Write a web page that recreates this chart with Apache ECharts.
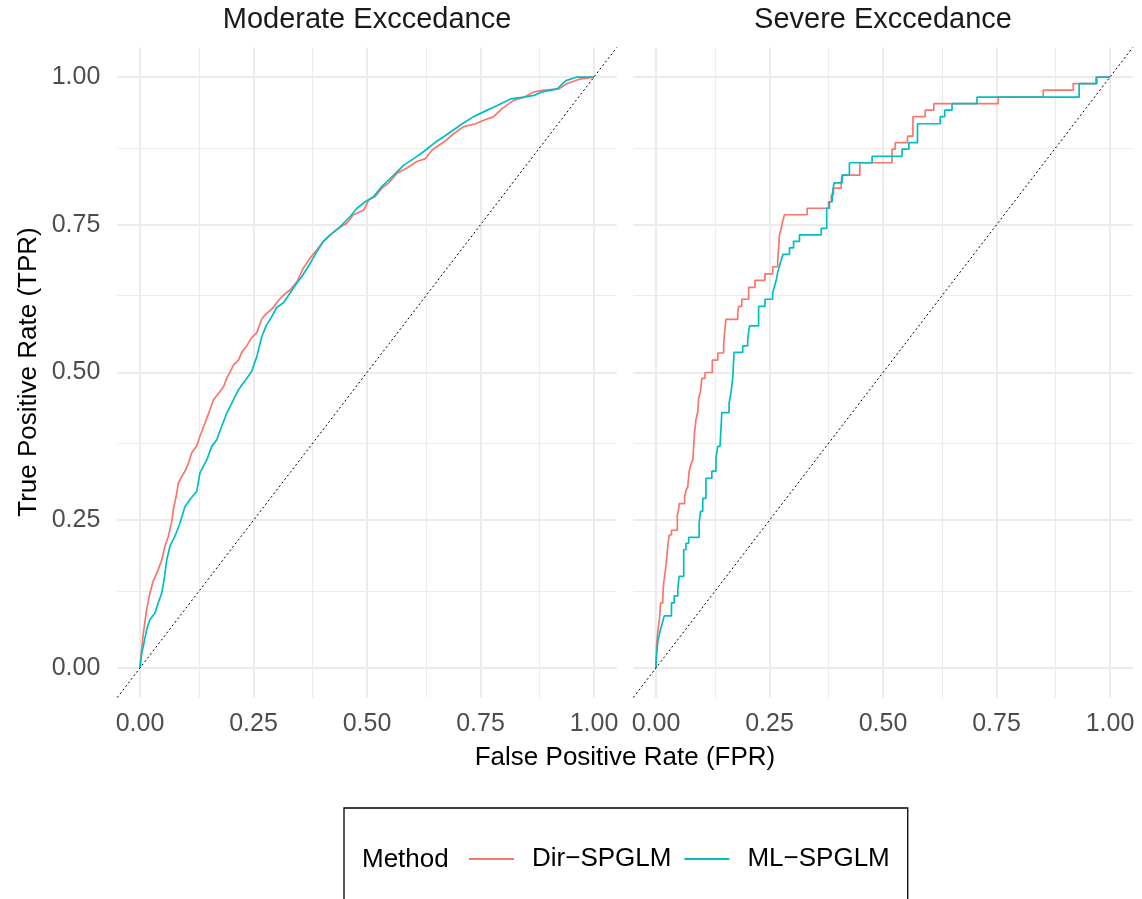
<!DOCTYPE html>
<html>
<head>
<meta charset="utf-8">
<title>ROC curves</title>
<script src="https://cdn.jsdelivr.net/npm/echarts@6/dist/echarts.min.js"></script>
<style>
  html, body { margin: 0; padding: 0; background: #ffffff; }
  #chart { width: 1142px; height: 899px; }
</style>
</head>
<body>
<div id="chart"></div>
<script>
// Facet titles, methods and axis ticks
const panels = ['Moderate Exccedance', 'Severe Exccedance'];
const methods = ['Dir−SPGLM', 'ML−SPGLM'];
const methodColors = ['#F8766D', '#00BFC4'];
const majorTicks = [0, 0.25, 0.5, 0.75, 1];
const minorTicks = [0.125, 0.375, 0.625, 0.875];
const axisRange = [-0.05, 1.05];

// ROC points [FPR, TPR] — moderate exceedance
const moderateDir = [
  [0,0],[0.0037,0.031],[0.0074,0.059],[0.0147,0.099],[0.022,0.127],[0.029,0.147],
  [0.040,0.166],[0.048,0.183],[0.055,0.206],[0.0625,0.223],[0.070,0.248],[0.0735,0.268],
  [0.081,0.296],[0.0845,0.313],[0.092,0.324],[0.099,0.333],[0.107,0.347],[0.114,0.364],
  [0.125,0.376],[0.132,0.392],[0.143,0.414],[0.154,0.437],[0.162,0.454],[0.173,0.465],
  [0.184,0.476],[0.191,0.490],[0.199,0.502],[0.206,0.513],[0.217,0.521],[0.224,0.534],
  [0.235,0.545],[0.246,0.559],[0.257,0.567],[0.268,0.590],[0.276,0.598],[0.294,0.610],
  [0.301,0.618],[0.313,0.629],[0.331,0.640],[0.346,0.654],[0.360,0.677],[0.375,0.694],
  [0.390,0.708],[0.404,0.722],[0.419,0.733],[0.4375,0.744],[0.456,0.753],[0.470,0.767],
  [0.493,0.775],[0.504,0.792],[0.518,0.798],[0.533,0.812],[0.548,0.821],[0.566,0.837],
  [0.588,0.846],[0.610,0.857],[0.629,0.862],[0.643,0.876],[0.669,0.890],[0.691,0.904],
  [0.713,0.916],[0.739,0.921],[0.757,0.927],[0.779,0.933],[0.798,0.947],[0.824,0.961],
  [0.846,0.966],[0.868,0.975],[0.890,0.978],[0.923,0.980],[0.941,0.989],[0.971,0.997],
  [1,1]
];
const moderateML = [
  [0,0],[0.0037,0.025],[0.0074,0.037],[0.0147,0.065],[0.022,0.082],[0.033,0.093],
  [0.040,0.110],[0.048,0.127],[0.053,0.149],[0.059,0.183],[0.066,0.206],[0.077,0.223],
  [0.088,0.245],[0.099,0.273],[0.110,0.285],[0.125,0.299],[0.132,0.330],[0.147,0.352],
  [0.158,0.375],[0.169,0.386],[0.180,0.409],[0.191,0.431],[0.206,0.454],[0.217,0.471],
  [0.235,0.490],[0.246,0.502],[0.257,0.526],[0.268,0.560],[0.279,0.581],[0.287,0.590],
  [0.301,0.610],[0.316,0.618],[0.331,0.635],[0.346,0.652],[0.357,0.663],[0.375,0.685],
  [0.390,0.705],[0.404,0.722],[0.419,0.733],[0.441,0.747],[0.463,0.764],[0.478,0.778],
  [0.496,0.789],[0.515,0.798],[0.533,0.815],[0.559,0.834],[0.581,0.851],[0.603,0.862],
  [0.625,0.874],[0.651,0.890],[0.669,0.899],[0.684,0.907],[0.710,0.921],[0.735,0.933],
  [0.765,0.944],[0.787,0.952],[0.816,0.963],[0.846,0.966],[0.868,0.969],[0.886,0.975],
  [0.919,0.980],[0.938,0.994],[0.963,1],[1,1]
];

// ROC points [FPR, TPR] — severe exceedance (each point is where TPR steps up)
const severeDir = [
  [0,0],[0.001,0.034],[0.004,0.062],[0.008,0.085],[0.010,0.110],[0.015,0.120],
  [0.017,0.144],[0.021,0.167],[0.024,0.190],[0.027,0.213],[0.029,0.225],[0.034,0.233],
  [0.047,0.258],[0.050,0.270],[0.051,0.278],[0.063,0.290],[0.066,0.300],[0.070,0.307],
  [0.073,0.332],[0.077,0.345],[0.081,0.352],[0.083,0.375],[0.085,0.400],[0.088,0.420],
  [0.092,0.434],[0.094,0.457],[0.098,0.468],[0.101,0.490],[0.108,0.500],[0.124,0.521],
  [0.136,0.533],[0.149,0.545],[0.151,0.567],[0.154,0.590],[0.180,0.601],[0.182,0.612],
  [0.189,0.624],[0.204,0.644],[0.218,0.656],[0.240,0.667],[0.257,0.679],[0.268,0.689],
  [0.270,0.711],[0.272,0.733],[0.276,0.744],[0.279,0.756],[0.283,0.767],[0.333,0.778],
  [0.380,0.789],[0.386,0.800],[0.391,0.812],[0.408,0.823],[0.410,0.834],[0.449,0.855],
  [0.520,0.878],[0.527,0.889],[0.554,0.900],[0.566,0.933],[0.593,0.944],[0.612,0.955],
  [0.754,0.966],[0.853,0.978],[0.919,0.989],[0.969,1],[1,1]
];
const severeML = [
  [0,0],[0,0.011],[0.004,0.045],[0.007,0.056],[0.011,0.068],[0.015,0.079],
  [0.018,0.088],[0.034,0.110],[0.040,0.122],[0.048,0.134],[0.051,0.155],[0.061,0.200],
  [0.066,0.211],[0.072,0.221],[0.095,0.245],[0.098,0.265],[0.103,0.287],[0.110,0.321],
  [0.123,0.333],[0.132,0.355],[0.136,0.375],[0.141,0.378],[0.145,0.432],[0.161,0.448],
  [0.165,0.465],[0.169,0.490],[0.172,0.534],[0.191,0.545],[0.202,0.556],[0.206,0.579],
  [0.226,0.612],[0.240,0.624],[0.257,0.635],[0.261,0.646],[0.265,0.657],[0.268,0.669],
  [0.272,0.680],[0.276,0.691],[0.280,0.700],[0.294,0.711],[0.303,0.722],[0.316,0.733],
  [0.364,0.744],[0.376,0.778],[0.382,0.789],[0.388,0.800],[0.392,0.821],[0.410,0.834],
  [0.426,0.855],[0.476,0.866],[0.542,0.878],[0.557,0.889],[0.576,0.921],[0.626,0.933],
  [0.636,0.944],[0.652,0.955],[0.707,0.966],[0.932,0.989],[0.971,1],[1,1]
];

const panelCurves = [
  { data: [moderateDir, moderateML], step: false },
  { data: [severeDir, severeML], step: 'end' }
];

const FONT = '"Liberation Sans", Arial, Helvetica, sans-serif';
const GRID_COLOR = '#EBEBEB';

const panelBoxes = [
  { left: 117.3, top: 47.5, width: 499.4, height: 650 },
  { left: 633.3, top: 47.5, width: 499.4, height: 650 }
];

function gridMarkLines() {
  const items = [];
  majorTicks.forEach(v => {
    items.push({ xAxis: v, lineStyle: { width: 2.1 } });
    items.push({ yAxis: v, lineStyle: { width: 2.1 } });
  });
  minorTicks.forEach(v => {
    items.push({ xAxis: v, lineStyle: { width: 1.1 } });
    items.push({ yAxis: v, lineStyle: { width: 1.1 } });
  });
  return {
    silent: true,
    z: 0,
    symbol: ['none', 'none'],
    label: { show: false },
    emphasis: { disabled: true },
    lineStyle: { color: GRID_COLOR, type: 'solid' },
    animation: false,
    data: items
  };
}

const grids = [], xAxes = [], yAxes = [], series = [];
panelBoxes.forEach((box, p) => {
  grids.push(Object.assign({ containLabel: false }, box));
  xAxes.push({
    type: 'value', gridIndex: p, min: axisRange[0], max: axisRange[1],
    axisLine: { show: false }, axisTick: { show: false }, splitLine: { show: false },
    axisLabel: {
      customValues: majorTicks, margin: 14,
      formatter: v => v.toFixed(2),
      color: '#4D4D4D', fontSize: 25, fontFamily: FONT
    }
  });
  yAxes.push({
    type: 'value', gridIndex: p, min: axisRange[0], max: axisRange[1],
    axisLine: { show: false }, axisTick: { show: false }, splitLine: { show: false },
    axisLabel: {
      show: p === 0, customValues: majorTicks, margin: 17,
      formatter: v => v.toFixed(2),
      color: '#4D4D4D', fontSize: 25, fontFamily: FONT
    }
  });
  // panel grid lines
  series.push({
    name: 'grid-' + p, type: 'line', xAxisIndex: p, yAxisIndex: p,
    data: [], silent: true, z: 0, markLine: gridMarkLines()
  });
  // ROC curves per method
  panelCurves[p].data.forEach((pts, m) => {
    series.push({
      name: methods[m], type: 'line', xAxisIndex: p, yAxisIndex: p,
      data: pts, step: panelCurves[p].step, showSymbol: false, symbol: 'none',
      lineStyle: { color: methodColors[m], width: 1.7 },
      itemStyle: { color: methodColors[m] },
      z: 2, silent: true
    });
  });
  // chance line y = x
  series.push({
    name: 'chance-' + p, type: 'line', xAxisIndex: p, yAxisIndex: p,
    data: [[axisRange[0], axisRange[0]], [axisRange[1], axisRange[1]]],
    showSymbol: false, symbol: 'none', silent: true, z: 3,
    lineStyle: { color: '#000000', width: 1, type: [2, 2.5] }
  });
});

const chart = echarts.init(document.getElementById('chart'), null, { renderer: 'canvas' });
chart.setOption({
  animation: false,
  backgroundColor: '#ffffff',
  grid: grids,
  xAxis: xAxes,
  yAxis: yAxes,
  series: series,
  legend: {
    data: methods,
    left: 344, top: 808,
    orient: 'horizontal',
    padding: [38, 18, 38, 125],
    borderColor: '#000000', borderWidth: 1.3,
    icon: 'rect', itemWidth: 45, itemHeight: 2,
    itemGap: 13,
    selectedMode: false,
    textStyle: { fontSize: 26, color: '#000000', fontFamily: FONT, padding: [0, 0, 0, 13] }
  },
  graphic: [
    { type: 'text', x: 367, y: 20, silent: true,
      style: { text: panels[0], font: '29px ' + FONT, fill: '#1A1A1A', align: 'center', verticalAlign: 'middle', textAlign: 'center', textVerticalAlign: 'middle' } },
    { type: 'text', x: 883, y: 20, silent: true,
      style: { text: panels[1], font: '29px ' + FONT, fill: '#1A1A1A', align: 'center', verticalAlign: 'middle', textAlign: 'center', textVerticalAlign: 'middle' } },
    { type: 'text', x: 625, y: 758, silent: true,
      style: { text: 'False Positive Rate (FPR)', font: '26px ' + FONT, fill: '#000000', align: 'center', verticalAlign: 'middle', textAlign: 'center', textVerticalAlign: 'middle' } },
    { type: 'text', x: 29, y: 372, rotation: Math.PI / 2, silent: true,
      style: { text: 'True Positive Rate (TPR)', font: '26px ' + FONT, fill: '#000000', align: 'center', verticalAlign: 'middle', textAlign: 'center', textVerticalAlign: 'middle' } },
    { type: 'text', x: 362, y: 860, silent: true,
      style: { text: 'Method', font: '26px ' + FONT, fill: '#000000', align: 'left', verticalAlign: 'middle', textAlign: 'left', textVerticalAlign: 'middle' } }
  ]
});
</script>
</body>
</html>
